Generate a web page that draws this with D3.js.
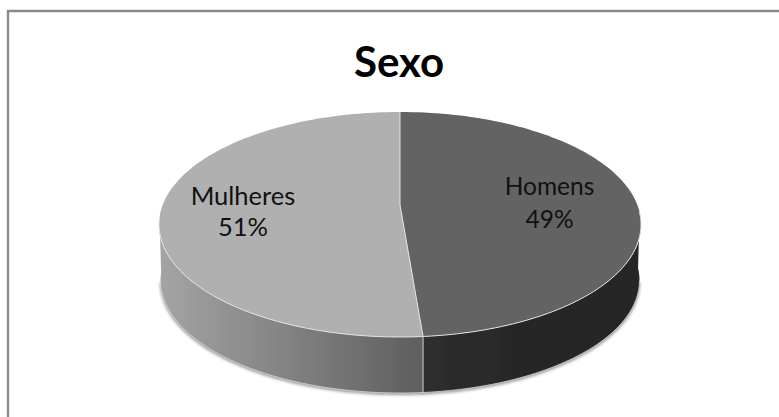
<!DOCTYPE html>
<html><head><meta charset="utf-8">
<script src="https://cdnjs.cloudflare.com/ajax/libs/d3/7.8.5/d3.min.js"></script>
<style>html,body{margin:0;background:#fff}svg{display:block}</style>
</head><body><div id="c"></div>
<script>
const title = "Sexo";
const categories = ["Homens", "Mulheres"];
const values = [48.7, 51.3];
const topColors = ["#636363", "#b0b0b0"];

const W = 779, H = 417;
const cx = 400, cy = 224.5, rx = 241, ry = 112.5, depth = 56;
const pivot = { x: 400, y: 205 };      // perspective centre of the disc

const svg = d3.select("#c").append("svg").attr("width", W).attr("height", H)
  .attr("font-family", "Lato, sans-serif");
const defs = svg.append("defs");
const soft = defs.append("filter").attr("id", "soft");
soft.append("feGaussianBlur").attr("stdDeviation", 0.35);
const shadow = defs.append("filter").attr("id", "shadow")
  .attr("x", "-5%").attr("y", "-5%").attr("width", "110%").attr("height", "115%");
shadow.append("feGaussianBlur").attr("stdDeviation", 1.6);

const leftGrad = defs.append("linearGradient").attr("id", "sideL")
  .attr("gradientUnits", "userSpaceOnUse").attr("x1", 160).attr("x2", 423).attr("y1", 0).attr("y2", 0);
leftGrad.append("stop").attr("offset", 0).attr("stop-color", "#a4a4a4");
leftGrad.append("stop").attr("offset", 1).attr("stop-color", "#5e5e5e");
const rightGrad = defs.append("linearGradient").attr("id", "sideR")
  .attr("gradientUnits", "userSpaceOnUse").attr("x1", 423).attr("x2", 641).attr("y1", 0).attr("y2", 0);
rightGrad.append("stop").attr("offset", 0).attr("stop-color", "#2e2e2e");
rightGrad.append("stop").attr("offset", 0.45).attr("stop-color", "#272727");
rightGrad.append("stop").attr("offset", 1).attr("stop-color", "#262626");

// chart frame (open on the right and at the bottom)
svg.append("path").attr("d", `M8,${H} V11 H${W}`).attr("fill", "none")
  .attr("stroke", "#8a8a8a").attr("stroke-width", 2.4);

const pie = d3.pie().sort(null).value(d => d)(values);
const line = d3.line().x(d => d[0]).y(d => d[1]);

// ellipse param t: 0 = top, clockwise on screen
const ell = (t, dy = 0, r = rx) => [cx + r * Math.sin(t), cy + dy - ry * Math.cos(t)];
const arcPts = (a, b, dy, r) => d3.range(0, 121).map(i => ell(a + (b - a) * i / 120, dy, r));

// where a pie angle's radius, seen from the pivot, meets the rim
function rimParam(angle) {
  const dx = Math.sin(angle) * rx, dy = -Math.cos(angle) * ry;
  const px = (pivot.x - cx) / rx, py = (pivot.y - cy) / ry;
  const ux = dx / rx, uy = dy / ry;
  const A = ux * ux + uy * uy, B = 2 * (px * ux + py * uy), C = px * px + py * py - 1;
  const s = (-B + Math.sqrt(B * B - 4 * A * C)) / (2 * A);
  const x = px + s * ux, y = py + s * uy;
  return Math.atan2(x, -y);
}
const split = rimParam(pie[0].endAngle);
const halfPi = Math.PI / 2;
const rightStart = halfPi * 0.93, leftEnd = Math.PI * 1.5 + 0.07;

// soft shadow beneath the disc
svg.append("path")
  .attr("d", line(arcPts(halfPi, Math.PI * 1.5, depth + 2, rx - 1)))
  .attr("fill", "#9a9a9a").attr("filter", "url(#shadow)");

const g = svg.append("g").attr("filter", "url(#soft)");

// side walls
const wall = (a, b, fill) => g.append("path")
  .attr("d", line(arcPts(a, b, 0, rx).concat(arcPts(b, a, depth, rx - 1.5))) + "Z")
  .attr("fill", fill);
wall(rightStart, split, "url(#sideR)");
wall(split, leftEnd, "url(#sideL)");

// top faces
const params = [[0, split], [split, Math.PI * 2]];
g.selectAll("path.top").data(pie).join("path").attr("class", "top")
  .attr("d", (d, i) => line([[pivot.x, pivot.y]].concat(arcPts(params[i][0], params[i][1], 0, rx))) + "Z")
  .attr("fill", (d, i) => topColors[i]);

// light edges
const edge = "#e4e4e4";
g.append("path").attr("d", line(arcPts(rightStart, leftEnd, 0, rx)))
  .attr("fill", "none").attr("stroke", edge).attr("stroke-width", 1);
g.append("path").attr("d", line([[pivot.x, cy - ry], [pivot.x, pivot.y], ell(split)]))
  .attr("fill", "none").attr("stroke", edge).attr("stroke-width", 1);
g.append("path").attr("d", line([ell(split), ell(split, depth)]))
  .attr("fill", "none").attr("stroke", "#cfcfcf").attr("stroke-width", 1);
g.append("path").attr("d", line(arcPts(halfPi, Math.PI * 1.5, depth, rx - 1.5)))
  .attr("fill", "none").attr("stroke", "#d8d8d8").attr("stroke-width", 0.8);

// text
svg.append("text").attr("x", 399).attr("y", 77).attr("text-anchor", "middle")
  .attr("font-size", 42).attr("font-weight", 700).attr("fill", "#000").text(title);

const labelX = [549.5, 243], nameY = [195, 205], pctY = [228, 236], fontSize = [24.5, 25.5];
categories.forEach((c, i) => {
  svg.append("text").attr("x", labelX[i]).attr("y", nameY[i])
    .attr("text-anchor", "middle").attr("font-size", fontSize[i]).attr("fill", "#111").text(c);
  svg.append("text").attr("x", labelX[i]).attr("y", pctY[i])
    .attr("text-anchor", "middle").attr("font-size", fontSize[i]).attr("fill", "#111")
    .text(Math.round(values[i]) + "%");
});
</script></body></html>
